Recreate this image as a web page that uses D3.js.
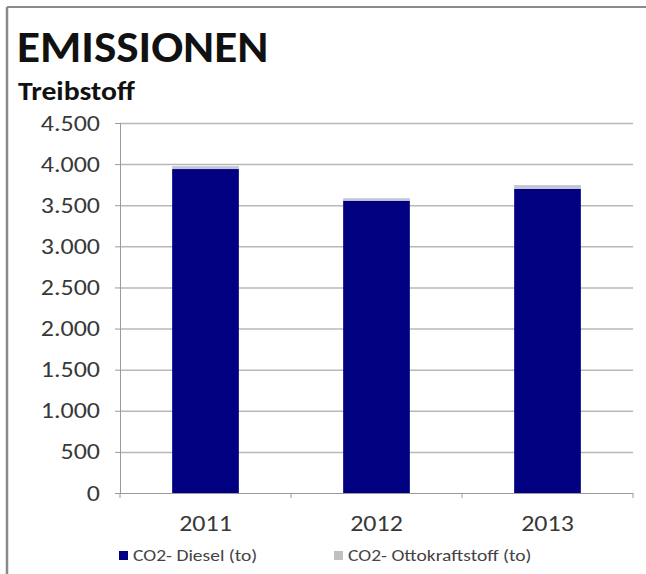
<!DOCTYPE html>
<html>
<head>
<meta charset="utf-8">
<script src="https://cdn.jsdelivr.net/npm/d3@7/dist/d3.min.js"></script>
<style>
  html, body { margin: 0; padding: 0; background: #fff; }
  svg { display: block; }
</style>
</head>
<body>
<svg id="chart" width="646" height="574"></svg>
<script>
// Fuel CO2 emissions per year (tonnes)
const years = ["2011", "2012", "2013"];
const diesel = [3940, 3555, 3700];
const otto = [35, 30, 45];
const yTicks = [0, 500, 1000, 1500, 2000, 2500, 3000, 3500, 4000, 4500];
const seriesNames = ["CO2- Diesel (to)", "CO2- Ottokraftstoff (to)"];
const seriesColors = ["#000080", "#c4c4d4"];

const svg = d3.select("#chart");
const font = "Calibri, Carlito, 'Open Sans', sans-serif";
const wide = 1.18; // horizontal stretch of the small labels

// frame
svg.append("line").attr("x1", 7).attr("x2", 646).attr("y1", 7).attr("y2", 7)
  .attr("stroke", "#8a8a8a").attr("stroke-width", 2);
svg.append("line").attr("x1", 7).attr("x2", 7).attr("y1", 7).attr("y2", 574)
  .attr("stroke", "#8a8a8a").attr("stroke-width", 2.5);

// titles
svg.append("text").attr("transform", "translate(17,62) scale(1.05,1)")
  .attr("font-family", font).attr("font-weight", "bold").attr("font-size", 45)
  .attr("fill", "#111").text("EMISSIONEN");
svg.append("text").attr("transform", "translate(18,100) scale(1.1,1)")
  .attr("font-family", font).attr("font-weight", "bold").attr("font-size", 27)
  .attr("fill", "#111").text("Treibstoff");

const plotL = 120, plotR = 633, plotT = 123, plotB = 493;

const x = d3.scaleBand().domain(years).range([plotL, plotR]).padding(0);
const y = d3.scaleLinear().domain([0, 4500]).range([plotB, plotT]);

// gridlines
svg.append("g").selectAll("line").data(yTicks.filter(t => t > 0)).join("line")
  .attr("x1", plotL).attr("x2", plotR)
  .attr("y1", d => y(d) + 0.5).attr("y2", d => y(d) + 0.5)
  .attr("stroke", "#b8b8b8").attr("stroke-width", 1.5);

// bars
const barW = x.bandwidth() * 0.39;
const stacks = years.map((yr, i) => ({ yr, d: diesel[i], o: otto[i] }));
const bars = svg.append("g");
bars.selectAll("rect.d").data(stacks).join("rect").attr("class", "d")
  .attr("x", d => x(d.yr) + (x.bandwidth() - barW) / 2)
  .attr("width", barW)
  .attr("y", d => y(d.d)).attr("height", d => y(0) - y(d.d))
  .attr("fill", seriesColors[0]);
bars.selectAll("rect.o").data(stacks).join("rect").attr("class", "o")
  .attr("x", d => x(d.yr) + (x.bandwidth() - barW) / 2)
  .attr("width", barW)
  .attr("y", d => y(d.d + d.o)).attr("height", d => y(d.d) - y(d.d + d.o))
  .attr("fill", seriesColors[1]);

// y axis
const yAxis = svg.append("g").attr("transform", `translate(${plotL},0)`)
  .call(d3.axisLeft(y).tickValues(yTicks).tickSize(5).tickPadding(20)
    .tickFormat(d => d3.format(",")(d).replace(/,/g, ".")));
yAxis.select(".domain").attr("stroke", "#9a9a9a");
yAxis.selectAll(".tick line").attr("stroke", "#9a9a9a");
yAxis.selectAll("text").attr("font-family", font).attr("font-size", 22)
  .attr("fill", "#383838")
  .attr("x", 0).attr("transform", `translate(-20,0) scale(${wide},1)`);

// x axis
const xAxis = svg.append("g").attr("transform", `translate(0,${plotB})`)
  .call(d3.axisBottom(x).tickSize(0).tickPadding(0));
xAxis.select(".domain").attr("stroke", "#9a9a9a").attr("d", `M${plotL},0.5H${plotR}`);
xAxis.selectAll("text").attr("font-family", font).attr("font-size", 22)
  .attr("fill", "#383838")
  .attr("y", 0).attr("dy", null)
  .attr("transform", `translate(0,38) scale(${wide},1)`);
svg.append("g").selectAll("line").data(years.map(v => x(v)).concat([plotR])).join("line")
  .attr("x1", d => d).attr("x2", d => d)
  .attr("y1", plotB).attr("y2", plotB + 5)
  .attr("stroke", "#9a9a9a");

// legend
const legendX = [119, 334];
const lg = svg.append("g");
seriesNames.forEach((name, i) => {
  lg.append("rect").attr("x", legendX[i]).attr("y", 551).attr("width", 9).attr("height", 9)
    .attr("fill", i === 0 ? seriesColors[0] : "#c0c0c0");
  lg.append("text").attr("transform", `translate(${legendX[i] + 14},561) scale(1.22,1)`)
    .attr("font-family", font).attr("font-size", 16).attr("fill", "#444").text(name);
});
</script>
</body>
</html>
